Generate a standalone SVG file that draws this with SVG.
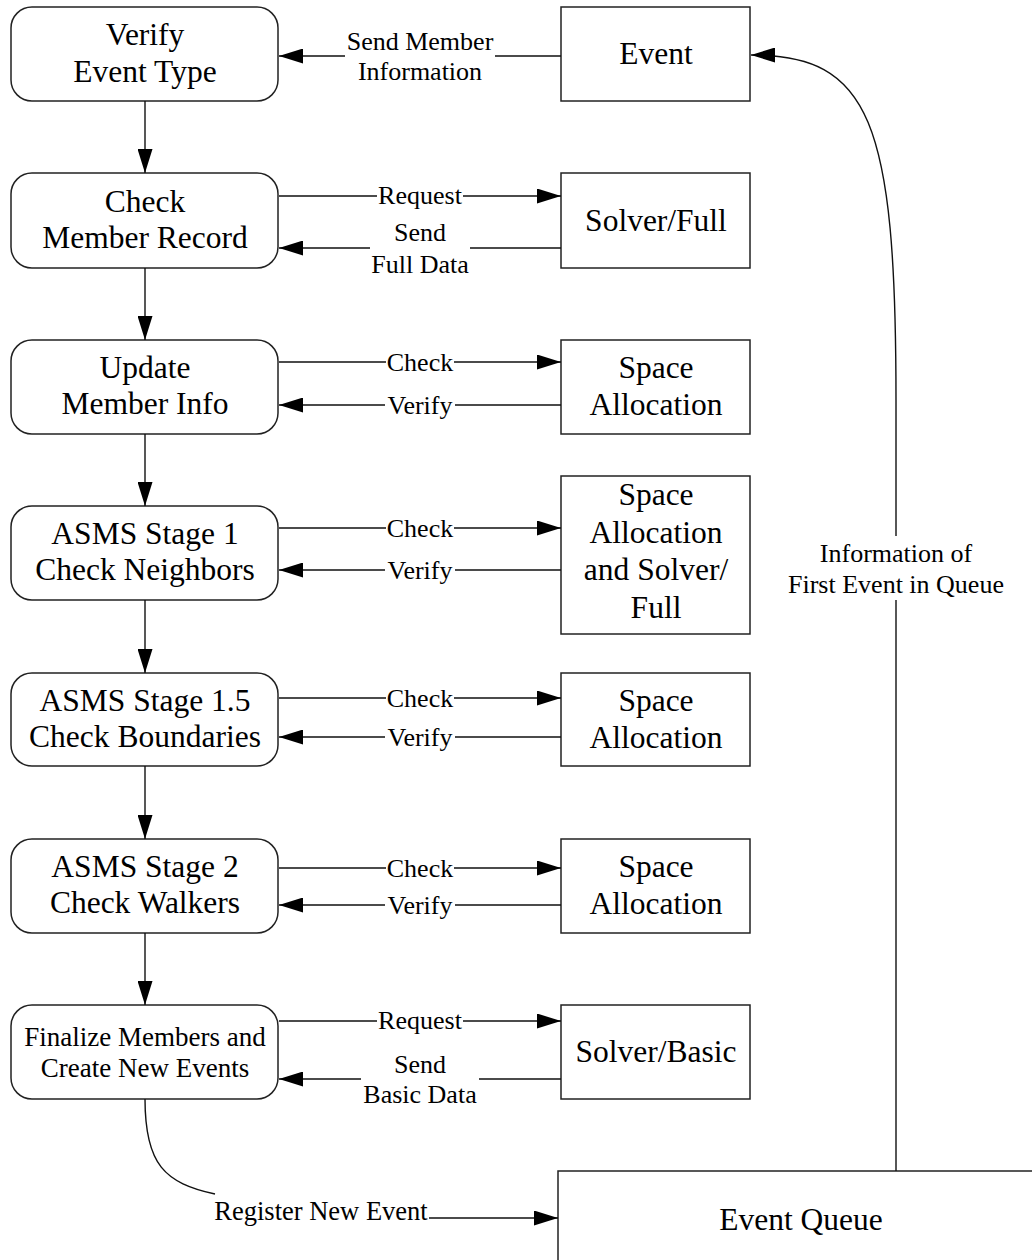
<svg xmlns="http://www.w3.org/2000/svg" width="1032" height="1260" viewBox="0 0 1032 1260">
  <style>
    .step { fill: #fff; stroke: #222; stroke-width: 1.5; }
    .store { fill: #fff; stroke: #222; stroke-width: 1.5; }
    .t { font-family: "Liberation Serif", "Times New Roman", serif; fill: #000; text-anchor: middle; }
    .big { font-size: 31.5px; }
    .mid { font-size: 27px; }
    .lbl { font-size: 26px; }
    .lbl2 { font-size: 26.5px; }
    .wire { fill: none; stroke: #111; stroke-width: 1.4; }
  </style>
  <defs>
    <marker id="arrow" markerUnits="userSpaceOnUse" markerWidth="24" markerHeight="15" refX="24" refY="7.5" orient="auto">
      <path d="M0,0 L24,7.5 L0,15 Z" fill="#000"/>
    </marker>
  </defs>
  <rect width="1032" height="1260" fill="#fff"/>

  <!-- process steps (left column) -->
  <g id="verify-event-type">
    <rect class="step" x="11" y="7" width="267" height="94" rx="21"/>
    <text class="t big" x="145" y="45">Verify</text>
    <text class="t big" x="145" y="82">Event Type</text>
  </g>
  <g id="check-member-record">
    <rect class="step" x="11" y="173" width="267" height="95" rx="21"/>
    <text class="t big" x="145" y="212">Check</text>
    <text class="t big" x="145" y="248">Member Record</text>
  </g>
  <g id="update-member-info">
    <rect class="step" x="11" y="340" width="267" height="94" rx="21"/>
    <text class="t big" x="145" y="378">Update</text>
    <text class="t big" x="145" y="414">Member Info</text>
  </g>
  <g id="asms-stage-1">
    <rect class="step" x="11" y="506" width="267" height="94" rx="21"/>
    <text class="t big" x="145" y="544">ASMS Stage 1</text>
    <text class="t big" x="145" y="580">Check Neighbors</text>
  </g>
  <g id="asms-stage-1-5">
    <rect class="step" x="11" y="673" width="267" height="93" rx="21"/>
    <text class="t big" x="145" y="711">ASMS Stage 1.5</text>
    <text class="t big" x="145" y="747">Check Boundaries</text>
  </g>
  <g id="asms-stage-2">
    <rect class="step" x="11" y="839" width="267" height="94" rx="21"/>
    <text class="t big" x="145" y="877">ASMS Stage 2</text>
    <text class="t big" x="145" y="913">Check Walkers</text>
  </g>
  <g id="finalize-members">
    <rect class="step" x="11" y="1005" width="267" height="94" rx="21"/>
    <text class="t mid" x="145" y="1046">Finalize Members and</text>
    <text class="t mid" x="145" y="1077">Create New Events</text>
  </g>

  <!-- data stores (right column) -->
  <g id="event">
    <rect class="store" x="561" y="7" width="189" height="94"/>
    <text class="t big" x="656" y="64">Event</text>
  </g>
  <g id="solver-full">
    <rect class="store" x="561" y="173" width="189" height="95"/>
    <text class="t big" x="656" y="231">Solver/Full</text>
  </g>
  <g id="space-allocation-1">
    <rect class="store" x="561" y="340" width="189" height="94"/>
    <text class="t big" x="656" y="378">Space</text>
    <text class="t big" x="656" y="415">Allocation</text>
  </g>
  <g id="space-allocation-solver-full">
    <rect class="store" x="561" y="476" width="189" height="158"/>
    <text class="t big" x="656" y="505">Space</text>
    <text class="t big" x="656" y="543">Allocation</text>
    <text class="t big" x="656" y="580">and Solver/</text>
    <text class="t big" x="656" y="618">Full</text>
  </g>
  <g id="space-allocation-2">
    <rect class="store" x="561" y="673" width="189" height="93"/>
    <text class="t big" x="656" y="711">Space</text>
    <text class="t big" x="656" y="748">Allocation</text>
  </g>
  <g id="space-allocation-3">
    <rect class="store" x="561" y="839" width="189" height="94"/>
    <text class="t big" x="656" y="877">Space</text>
    <text class="t big" x="656" y="914">Allocation</text>
  </g>
  <g id="solver-basic">
    <rect class="store" x="561" y="1005" width="189" height="94"/>
    <text class="t big" x="656" y="1062">Solver/Basic</text>
  </g>
  <g id="event-queue">
    <rect class="store" x="558" y="1171" width="490" height="100"/>
    <text class="t big" x="801" y="1230">Event Queue</text>
  </g>

  <!-- connectors -->
  <g id="connectors">
    <!-- main flow down the left column -->
    <line class="wire" x1="145" y1="101" x2="145" y2="173" marker-end="url(#arrow)"/>
    <line class="wire" x1="145" y1="268" x2="145" y2="340" marker-end="url(#arrow)"/>
    <line class="wire" x1="145" y1="434" x2="145" y2="506" marker-end="url(#arrow)"/>
    <line class="wire" x1="145" y1="600" x2="145" y2="673" marker-end="url(#arrow)"/>
    <line class="wire" x1="145" y1="766" x2="145" y2="839" marker-end="url(#arrow)"/>
    <line class="wire" x1="145" y1="933" x2="145" y2="1005" marker-end="url(#arrow)"/>

    <!-- row 1 -->
    <path class="wire" d="M561 56 H495 M345 56 H279" marker-end="url(#arrow)"/>
    <text class="t lbl" x="420" y="50">Send Member</text>
    <text class="t lbl" x="420" y="80">Information</text>

    <!-- row 2 -->
    <path class="wire" d="M279 196 H377 M463 196 H561" marker-end="url(#arrow)"/>
    <text class="t lbl" x="420" y="204">Request</text>
    <path class="wire" d="M561 248 H470 M370 248 H279" marker-end="url(#arrow)"/>
    <text class="t lbl" x="420" y="241">Send</text>
    <text class="t lbl" x="420" y="273">Full Data</text>

    <!-- row 3 -->
    <path class="wire" d="M279 362 H386 M454 362 H561" marker-end="url(#arrow)"/>
    <text class="t lbl" x="420" y="371">Check</text>
    <path class="wire" d="M561 405 H455 M385 405 H279" marker-end="url(#arrow)"/>
    <text class="t lbl" x="420" y="414">Verify</text>

    <!-- row 4 -->
    <path class="wire" d="M279 528 H386 M454 528 H561" marker-end="url(#arrow)"/>
    <text class="t lbl" x="420" y="537">Check</text>
    <path class="wire" d="M561 570 H455 M385 570 H279" marker-end="url(#arrow)"/>
    <text class="t lbl" x="420" y="579">Verify</text>

    <!-- row 5 -->
    <path class="wire" d="M279 698 H386 M454 698 H561" marker-end="url(#arrow)"/>
    <text class="t lbl" x="420" y="707">Check</text>
    <path class="wire" d="M561 737 H455 M385 737 H279" marker-end="url(#arrow)"/>
    <text class="t lbl" x="420" y="746">Verify</text>

    <!-- row 6 -->
    <path class="wire" d="M279 868 H386 M454 868 H561" marker-end="url(#arrow)"/>
    <text class="t lbl" x="420" y="877">Check</text>
    <path class="wire" d="M561 905 H455 M385 905 H279" marker-end="url(#arrow)"/>
    <text class="t lbl" x="420" y="914">Verify</text>

    <!-- row 7 -->
    <path class="wire" d="M279 1021 H377 M463 1021 H561" marker-end="url(#arrow)"/>
    <text class="t lbl" x="420" y="1029">Request</text>
    <path class="wire" d="M561 1079 H479 M361 1079 H279" marker-end="url(#arrow)"/>
    <text class="t lbl" x="420" y="1073">Send</text>
    <text class="t lbl" x="420" y="1103">Basic Data</text>

    <!-- new events into the queue -->
    <path class="wire" d="M145 1099 C145 1165 165 1183 215 1194 M429 1218 H558" marker-end="url(#arrow)"/>
    <text class="t lbl2" x="321" y="1220">Register New Event</text>

    <!-- queue head back to the event store -->
    <path class="wire" d="M896 1171 V600 M896 536 V400 C896 120 870 55 751 55" marker-end="url(#arrow)"/>
    <text class="t lbl" x="896" y="562">Information of</text>
    <text class="t lbl" x="896" y="593">First Event in Queue</text>
  </g>
</svg>
